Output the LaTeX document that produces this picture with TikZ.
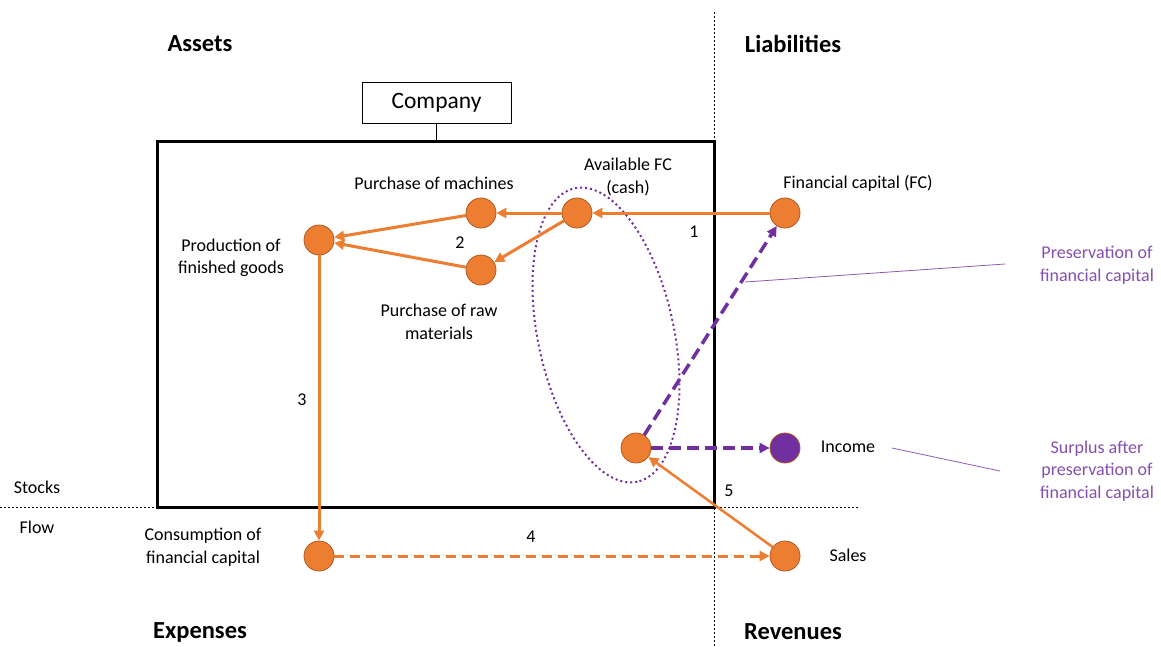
\documentclass[tikz,border=0pt]{standalone}
\usepackage{fontspec}
\setmainfont{Carlito}
\usetikzlibrary{arrows.meta}
\definecolor{orng}{HTML}{ED7D31}
\definecolor{orngd}{HTML}{AE5A21}
\definecolor{purp}{HTML}{7030A0}
\begin{document}
\begin{tikzpicture}[x=1pt,y=-1pt,
  dot/.style={circle,fill=orng,draw=orngd,line width=0.8pt,minimum size=30pt,inner sep=0pt},
  pdot/.style={circle,fill=purp,draw=orngd,line width=0.8pt,minimum size=30pt,inner sep=0pt},
  lbl/.style={font=\fontsize{18}{22.5}\selectfont,align=center,inner sep=0pt},
  plbl/.style={font=\fontsize{18}{22.5}\selectfont,align=center,inner sep=0pt,text=purp!85!white},
  hdr/.style={font=\fontsize{24.5}{28}\selectfont\bfseries,inner sep=0pt},
  oarr/.style={draw=orng,line width=3pt,-{Triangle[length=10pt,width=10pt]}},
  parr/.style={draw=purp,line width=3.5pt,dash pattern=on 12pt off 6pt,-{Triangle[length=10pt,width=10pt]}},
  guide/.style={draw=black,line width=0.6pt,dash pattern=on 2pt off 2pt}
]
\useasboundingbox (0,0) rectangle (1161,646);
% guide lines
\coordinate (vt) at (714,12);
\coordinate (vb) at (714,646);
\coordinate (hl) at (0,507);
\coordinate (hr) at (860,507);
\draw[guide] (vt) -- (vb);
\draw[guide] (hl) -- (hr);
% company box
\node[draw=black,line width=3pt,minimum width=557pt,minimum height=366pt,inner sep=0pt] (box) at (435.5,324) {};
\node[draw=black,line width=1pt,minimum width=149pt,minimum height=41pt,inner sep=0pt,font=\fontsize{23.5}{28}\selectfont] (comp) at (436.5,102.5) {\raisebox{-1.5pt}{Company}};
\draw[line width=0.8pt] (comp.south) -- (comp.south |- box.north);
% headers
\node[hdr] (assets) at (200,44) {Assets};
\node[hdr] (liab) at (793,44) {Liabilities};
\node[hdr] (exp) at (200,632) {Expenses};
\node[hdr] (rev) at (793,632) {Revenues};
\node[lbl] (stocks) at (37,487) {Stocks};
\node[lbl] (flow) at (37,527) {Flow};
% ellipse
\draw[purp,line width=2pt,dash pattern=on 2pt off 3pt,rotate around={-78:(606,335)}] (606,335) ellipse [x radius=150, y radius=68];
% dots
\node[dot] (prod) at (319,240) {};
\node[dot] (mach) at (481,213) {};
\node[dot] (raw) at (481,270) {};
\node[dot] (avail) at (577,213) {};
\node[dot] (fc) at (785,213) {};
\node[dot] (cash) at (636,448) {};
\node[pdot] (inc) at (785,448) {};
\node[dot] (cons) at (319,556) {};
\node[dot] (sales) at (785,556) {};
% labels
\node[lbl] at (434,183) {Purchase of machines};
\node[lbl] at (628,177) {Available FC\\(cash)};
\node[lbl] at (858,183) {Financial capital (FC)};
\node[lbl] at (231,258) {Production of\\finished goods};
\node[lbl] at (460,243) {2};
\node[lbl] at (694,232) {1};
\node[lbl] at (439,322) {Purchase of raw\\materials};
\node[lbl] at (302,400) {3};
\node[lbl] at (848,447) {Income};
\node[lbl] at (729,491) {5};
\node[lbl] at (203,547) {Consumption of\\financial capital};
\node[lbl] at (531,537) {4};
\node[lbl] at (848,555) {Sales};
\node[plbl] (pres) at (1097,265) {Preservation of\\financial capital};
\node[plbl] (surp) at (1097,471) {Surplus after\\preservation of\\financial capital};
% leaders
\coordinate (l1a) at (745,282);
\coordinate (l1b) at (1005,264);
\coordinate (l2a) at (892,448);
\coordinate (l2b) at (1000,471);
\draw[purp!80!white,line width=0.8pt] (l1a) -- (l1b);
\draw[purp!80!white,line width=0.8pt] (l2a) -- (l2b);
% arrows
\draw[oarr] (fc) -- (avail);
\draw[oarr] (avail) -- (mach);
\draw[oarr] (avail) -- (raw);
\draw[oarr] (mach) -- (prod);
\draw[oarr] (raw) -- (prod);
\draw[oarr] (prod) -- (cons);
\draw[oarr,dash pattern=on 10pt off 6pt] (cons) -- (sales);
\draw[oarr,line width=2.5pt] (sales) -- (cash);
\draw[parr] (cash) -- (fc);
\draw[parr] (cash) -- (inc);
\end{tikzpicture}
\end{document}
